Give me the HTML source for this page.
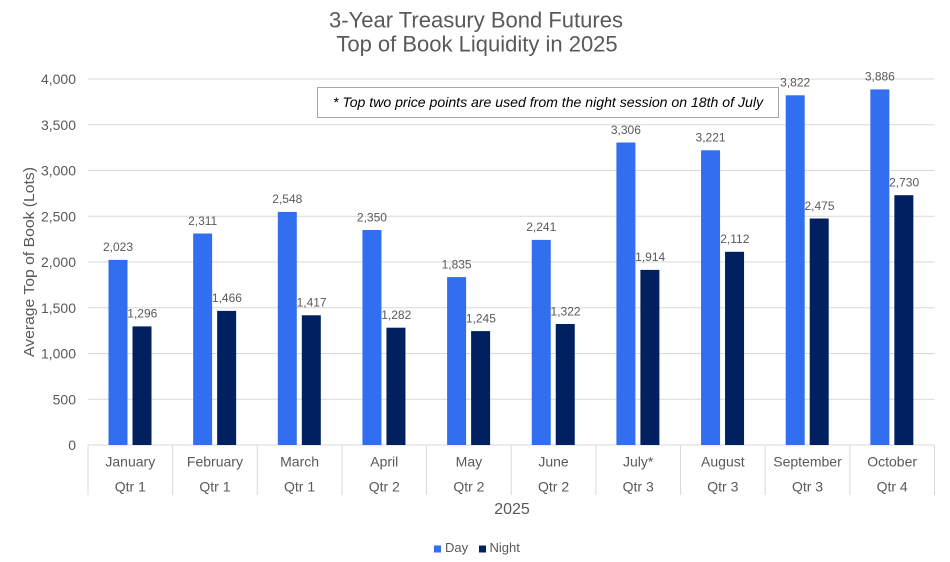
<!DOCTYPE html>
<html><head><meta charset="utf-8"><style>
html,body{margin:0;padding:0;background:#fff;}
svg{display:block;font-family:"Liberation Sans",Arial,sans-serif;}
</style></head><body>
<svg width="950" height="562" viewBox="0 0 950 562" xmlns="http://www.w3.org/2000/svg">
<rect width="950" height="562" fill="#fff"/>
<!-- title -->
<text x="476" y="27.5" font-size="22" fill="#595959" text-anchor="middle">3-Year Treasury Bond Futures</text>
<text x="477" y="51.5" font-size="22" fill="#595959" text-anchor="middle">Top of Book Liquidity in 2025</text>
<!-- gridlines -->
<g stroke="#d9d9d9" stroke-width="1">
<line x1="88" x2="934.5" y1="399.25" y2="399.25"/>
<line x1="88" x2="934.5" y1="353.5" y2="353.5"/>
<line x1="88" x2="934.5" y1="307.75" y2="307.75"/>
<line x1="88" x2="934.5" y1="262" y2="262"/>
<line x1="88" x2="934.5" y1="216.25" y2="216.25"/>
<line x1="88" x2="934.5" y1="170.5" y2="170.5"/>
<line x1="88" x2="934.5" y1="124.75" y2="124.75"/>
<line x1="88" x2="934.5" y1="79" y2="79"/>
<line x1="88" x2="934.5" y1="445" y2="445"/>
<line x1="88" x2="88" y1="445" y2="495"/>
<line x1="172.65" x2="172.65" y1="445" y2="495"/>
<line x1="257.3" x2="257.3" y1="445" y2="495"/>
<line x1="341.95" x2="341.95" y1="445" y2="495"/>
<line x1="426.6" x2="426.6" y1="445" y2="495"/>
<line x1="511.25" x2="511.25" y1="445" y2="495"/>
<line x1="595.9" x2="595.9" y1="445" y2="495"/>
<line x1="680.55" x2="680.55" y1="445" y2="495"/>
<line x1="765.2" x2="765.2" y1="445" y2="495"/>
<line x1="849.85" x2="849.85" y1="445" y2="495"/>
<line x1="934.5" x2="934.5" y1="445" y2="495"/>
</g>
<!-- y tick labels -->
<g font-size="14" fill="#595959" text-anchor="end">
<text x="76" y="450">0</text>
<text x="76" y="404.25">500</text>
<text x="76" y="358.5">1,000</text>
<text x="76" y="312.75">1,500</text>
<text x="76" y="267">2,000</text>
<text x="76" y="221.25">2,500</text>
<text x="76" y="175.5">3,000</text>
<text x="76" y="129.75">3,500</text>
<text x="76" y="84">4,000</text>
</g>
<!-- y axis title -->
<text transform="translate(34,262) rotate(-90)" font-size="15" fill="#595959" text-anchor="middle" textLength="190" lengthAdjust="spacingAndGlyphs">Average Top of Book (Lots)</text>
<!-- annotation box -->
<rect x="317.5" y="87.5" width="461" height="30" fill="#fff" stroke="#a6a6a6" stroke-width="1"/>
<text x="333" y="107" font-size="14" font-style="italic" fill="#000" textLength="430" lengthAdjust="spacingAndGlyphs">* Top two price points are used from the night session on 18th of July</text>
<!-- day bars -->
<g fill="#316EF0">
<rect x="108.5" y="259.9" width="19" height="185.1"/>
<rect x="193.15" y="233.5" width="19" height="211.5"/>
<rect x="277.8" y="211.9" width="19" height="233.1"/>
<rect x="362.45" y="230.0" width="19" height="215.0"/>
<rect x="447.1" y="277.1" width="19" height="167.9"/>
<rect x="531.75" y="239.9" width="19" height="205.1"/>
<rect x="616.4" y="142.5" width="19" height="302.5"/>
<rect x="701.05" y="150.3" width="19" height="294.7"/>
<rect x="785.7" y="95.3" width="19" height="349.7"/>
<rect x="870.35" y="89.4" width="19" height="355.6"/>
</g>
<!-- night bars -->
<g fill="#002060">
<rect x="132.5" y="326.4" width="19" height="118.6"/>
<rect x="217.15" y="310.9" width="19" height="134.1"/>
<rect x="301.8" y="315.3" width="19" height="129.7"/>
<rect x="386.45" y="327.7" width="19" height="117.3"/>
<rect x="471.1" y="331.1" width="19" height="113.9"/>
<rect x="555.75" y="324.0" width="19" height="121.0"/>
<rect x="640.4" y="269.9" width="19" height="175.1"/>
<rect x="725.05" y="251.8" width="19" height="193.2"/>
<rect x="809.7" y="218.5" width="19" height="226.5"/>
<rect x="894.35" y="195.2" width="19" height="249.8"/>
</g>
<!-- data labels -->
<g font-size="12" fill="#595959" text-anchor="middle">
<text x="118" y="251.2">2,023</text>
<text x="202.65" y="224.8">2,311</text>
<text x="287.3" y="203.2">2,548</text>
<text x="371.95" y="221.3">2,350</text>
<text x="456.6" y="268.4">1,835</text>
<text x="541.25" y="231.2">2,241</text>
<text x="625.9" y="133.8">3,306</text>
<text x="710.55" y="141.6">3,221</text>
<text x="795.2" y="86.6">3,822</text>
<text x="879.85" y="80.7">3,886</text>
<text x="142.3" y="317.7">1,296</text>
<text x="226.95" y="302.2">1,466</text>
<text x="311.6" y="306.6">1,417</text>
<text x="396.25" y="319">1,282</text>
<text x="480.9" y="322.4">1,245</text>
<text x="565.55" y="315.3">1,322</text>
<text x="650.2" y="261.2">1,914</text>
<text x="734.85" y="243.1">2,112</text>
<text x="819.5" y="209.8">2,475</text>
<text x="904.15" y="186.5">2,730</text>
</g>
<!-- category labels -->
<g font-size="14" fill="#595959" text-anchor="middle">
<text x="130.3" y="466.5">January</text>
<text x="214.95" y="466.5">February</text>
<text x="299.6" y="466.5">March</text>
<text x="384.25" y="466.5">April</text>
<text x="468.9" y="466.5">May</text>
<text x="553.55" y="466.5">June</text>
<text x="638.2" y="466.5">July*</text>
<text x="722.85" y="466.5">August</text>
<text x="807.5" y="466.5">September</text>
<text x="892.15" y="466.5">October</text>
<text x="130.3" y="491.5">Qtr 1</text>
<text x="214.95" y="491.5">Qtr 1</text>
<text x="299.6" y="491.5">Qtr 1</text>
<text x="384.25" y="491.5">Qtr 2</text>
<text x="468.9" y="491.5">Qtr 2</text>
<text x="553.55" y="491.5">Qtr 2</text>
<text x="638.2" y="491.5">Qtr 3</text>
<text x="722.85" y="491.5">Qtr 3</text>
<text x="807.5" y="491.5">Qtr 3</text>
<text x="892.15" y="491.5">Qtr 4</text>
</g>
<text x="512" y="514" font-size="16" fill="#595959" text-anchor="middle">2025</text>
<!-- legend -->
<rect x="434" y="545.5" width="7" height="7" fill="#316EF0"/>
<text x="445" y="552" font-size="13" fill="#595959">Day</text>
<rect x="479" y="545.5" width="7" height="7" fill="#002060"/>
<text x="489.5" y="552" font-size="13" fill="#595959">Night</text>
</svg>
</body></html>
